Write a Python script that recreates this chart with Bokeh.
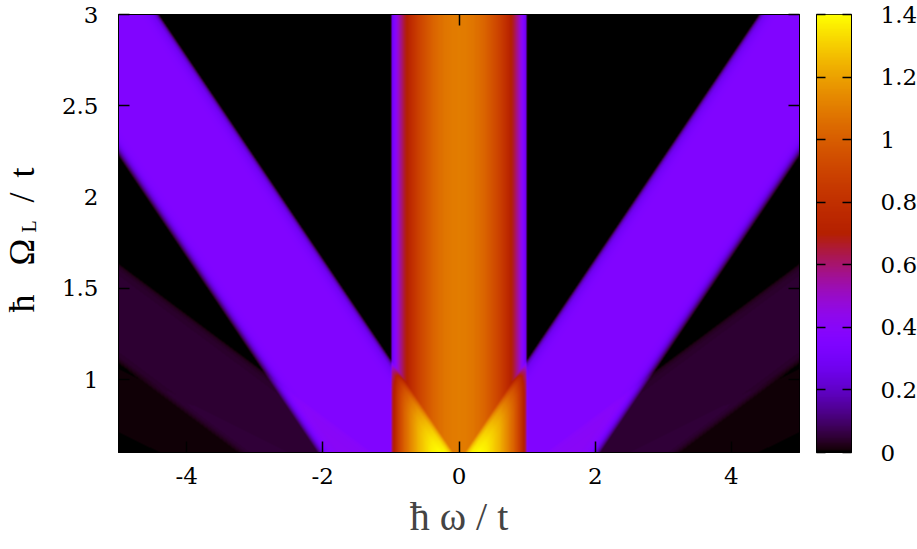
import numpy as np
from math import pi
from bokeh.plotting import figure
from bokeh.models import (LinearColorMapper, Label, LinearAxis, FixedTicker,
                          Range1d, CustomJSTickFormatter, BasicTickFormatter)
from bokeh.layouts import row
from bokeh.embed import file_html
from bokeh.resources import INLINE

# ---------------- data ----------------
omega_limits = [-5.0, 5.0]      # ħω/t
Omega_limits = [0.6, 3.0]       # ħΩ_L/t
x_tick_values = [-4, -2, 0, 2, 4]
x_tick_labels = ["-4", "-2", "0", "2", "4"]
y_tick_values = [1, 1.5, 2, 2.5, 3]
y_tick_labels = ["1", "1.5", "2", "2.5", "3"]
cb_tick_values = [0, 0.2, 0.4, 0.6, 0.8, 1.0, 1.2, 1.4]
cb_tick_labels = ["0", "0.2", "0.4", "0.6", "0.8", "1", "1.2", "1.4"]
cb_limits = [0.0, 1.4]
x_title = "ħ ω / t"

# central band: spectral weight across the band (read along a horizontal cut)
central_omega = [-1.0, -0.99, -0.97, -0.95, -0.9, -0.85, -0.8, -0.7, -0.6, -0.5,
                 -0.4, -0.3, -0.2, -0.1, 0.0, 0.1, 0.2, 0.3, 0.4, 0.5,
                 0.6, 0.7, 0.8, 0.85, 0.9, 0.95, 0.97, 0.99, 1.0]
central_weight = [0.0, 0.22, 0.30, 0.35, 0.48, 0.58, 0.66, 0.78, 0.88, 0.95,
                  1.01, 1.05, 1.08, 1.095, 1.10, 1.095, 1.08, 1.05, 1.01, 0.95,
                  0.88, 0.78, 0.66, 0.58, 0.48, 0.35, 0.30, 0.22, 0.0]

# side-band cross-section, from its outer edge (0) to its inner edge (2)
sideband_offset = [0.0, 0.05, 0.1, 0.15, 0.2, 0.3, 1.0, 1.7, 1.8, 1.9, 1.95, 2.0]
sideband_shape = [0.0, 0.35, 0.65, 0.85, 0.95, 1.0, 1.0, 1.0, 0.95, 0.8, 0.55, 0.0]

# side-band replicas: centre at ±(slope * ħΩ_L/t + shift), peak weight
replica_slope = [1.8, 3.6, 5.4, 7.2]
replica_shift = [0.0, 0.1, 0.2, 0.3]
replica_peak = [0.36, 0.045, 0.007, 0.003]

# ---------------- build the map ----------------
nx, ny = 681, 438
xs = omega_limits[0] + (np.arange(nx) + 0.5) * (omega_limits[1] - omega_limits[0]) / nx
ys = Omega_limits[0] + (np.arange(ny) + 0.5) * (Omega_limits[1] - Omega_limits[0]) / ny
X, Y = np.meshgrid(xs, ys)
Z = np.interp(X, central_omega, central_weight, left=0.0, right=0.0)
for slope, shift, peak in zip(replica_slope, replica_shift, replica_peak):
    c = slope * Y + shift
    Z = Z + peak * np.interp(X + c + 1.0, sideband_offset, sideband_shape, left=0.0, right=0.0)
    Z = Z + peak * np.interp(c + 1.0 - X, sideband_offset, sideband_shape, left=0.0, right=0.0)

# gnuplot default pm3d palette (rgbformulae 7,5,15)
t = np.linspace(0, 1, 256)
rr = np.sqrt(t)
gg = t ** 3
bb = np.clip(np.sin(2 * np.pi * t), 0, 1)
palette = ["#%02x%02x%02x" % (int(round(255 * a)), int(round(255 * b)), int(round(255 * c)))
           for a, b, c in zip(rr, gg, bb)]
mapper = LinearColorMapper(palette=palette, low=cb_limits[0], high=cb_limits[1])

FONT = "Liberation Serif"
NUM_FONT = "DejaVu Serif"
blank = CustomJSTickFormatter(code="return '';")


def style_axis(ax, ticks, labels=None, tick_len=11):
    ax.ticker = FixedTicker(ticks=ticks)
    ax.major_tick_in = tick_len
    ax.major_tick_out = 0
    ax.minor_tick_in = 0
    ax.minor_tick_out = 0
    ax.major_tick_line_color = "black"
    ax.major_tick_line_width = 1.5
    ax.axis_line_color = "black"
    ax.axis_line_width = 1
    ax.major_label_text_font = NUM_FONT
    ax.major_label_text_font_style = "normal"
    ax.major_label_text_color = "black"
    if labels is not None:
        ax.formatter = BasicTickFormatter()
        ax.major_label_overrides = {float(v): s for v, s in zip(ticks, labels)}
        ax.major_label_text_font_size = "23px"
    else:
        ax.formatter = blank
        ax.major_label_text_font_size = "2px"
        ax.major_label_standoff = 0


p = figure(frame_width=681, frame_height=438,
           x_range=Range1d(omega_limits[0], omega_limits[1]),
           y_range=Range1d(Omega_limits[0], Omega_limits[1]),
           min_border_left=78, min_border_right=9, min_border_top=14, min_border_bottom=95,
           toolbar_location=None, output_backend="svg")
p.grid.visible = False
p.outline_line_color = "black"
p.outline_line_width = 1
p.background_fill_color = "black"

p.image(image=[Z], x=omega_limits[0], y=Omega_limits[0],
        dw=omega_limits[1] - omega_limits[0], dh=Omega_limits[1] - Omega_limits[0],
        color_mapper=mapper)

xa = p.xaxis[0]
style_axis(xa, x_tick_values, labels=x_tick_labels)
xa.major_label_standoff = 15
xa.axis_label = x_title
xa.axis_label_text_font = FONT
xa.axis_label_text_font_size = "40px"
xa.axis_label_text_font_style = "normal"
xa.axis_label_standoff = 7

ya = p.yaxis[0]
style_axis(ya, y_tick_values, labels=y_tick_labels)
ya.major_label_standoff = 20

top = LinearAxis()
style_axis(top, x_tick_values)
p.add_layout(top, "above")
right = LinearAxis()
style_axis(right, y_tick_values)
p.add_layout(right, "right")

# ---------------- y-axis title ħ Ω_L / t in its own strip ----------------
ytitle = figure(frame_width=40, frame_height=547, x_range=Range1d(0, 40), y_range=Range1d(0, 547),
                min_border_left=0, min_border_right=0, min_border_top=0, min_border_bottom=0,
                toolbar_location=None, output_backend="svg",
                x_axis_location=None, y_axis_location=None)
ytitle.grid.visible = False
ytitle.outline_line_color = None
ytitle_parts = ["ħ", "Ω", "L", "/", "t"]
ytitle_mid = [21, 21, 28, 21, 21]
ytitle_start = [249, 296, 329, 359, 384]
ytitle_size = ["36px", "36px", "20px", "36px", "36px"]
for txt, bx, sy, fs in zip(ytitle_parts, ytitle_mid, ytitle_start, ytitle_size):
    lab = Label(x=bx, y=sy, text=txt, angle=pi / 2, text_font=FONT, text_font_size=fs,
                text_align="left", text_baseline="middle", text_color="black",
                text_font_style="normal")
    ytitle.add_layout(lab)

# ---------------- colour bar as its own small plot ----------------
cb = figure(frame_width=35, frame_height=438,
            x_range=Range1d(0, 1), y_range=Range1d(cb_limits[0], cb_limits[1]),
            min_border_left=8, min_border_right=0, min_border_top=14, min_border_bottom=95,
            toolbar_location=None, output_backend="svg",
            x_axis_location=None, y_axis_location="right")
cb.grid.visible = False
cb.outline_line_color = "black"
cb.outline_line_width = 1
grad = np.linspace(cb_limits[0], cb_limits[1], 256).reshape(-1, 1)
cb.image(image=[grad], x=0, y=cb_limits[0], dw=1, dh=cb_limits[1] - cb_limits[0],
         color_mapper=mapper)
cra = cb.yaxis[0]
style_axis(cra, cb_tick_values, labels=cb_tick_labels, tick_len=9)
cra.major_label_standoff = 29
cla = LinearAxis()
style_axis(cla, cb_tick_values, tick_len=9)
cb.add_layout(cla, "left")

layout = row(ytitle, p, cb)
open("out.html", "w").write(file_html(layout, INLINE))
